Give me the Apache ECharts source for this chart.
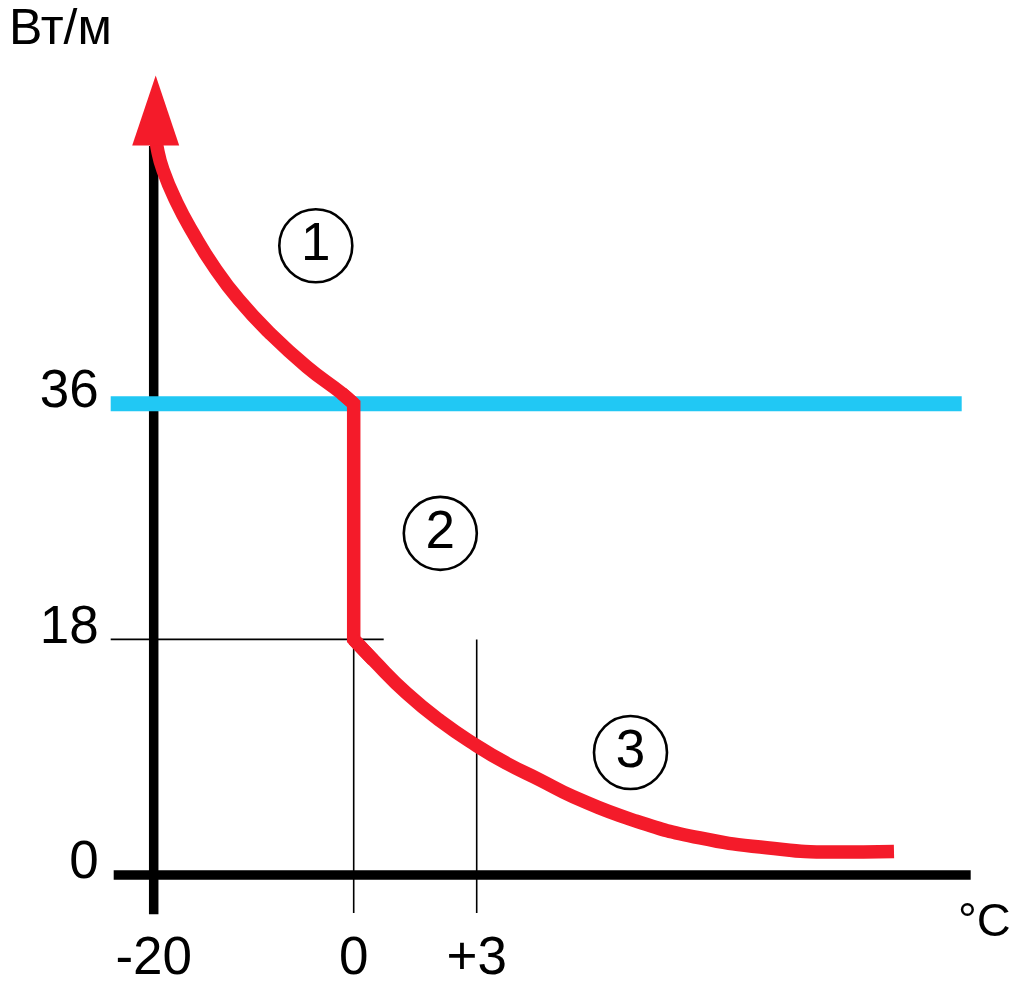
<!DOCTYPE html>
<html>
<head>
<meta charset="utf-8">
<script src="https://cdn.jsdelivr.net/npm/echarts@6/dist/echarts.min.js"></script>
<style>
  html, body { margin: 0; padding: 0; background: #fff; }
  #chart { width: 1013px; height: 982px; }
</style>
</head>
<body>
<div id="chart"></div>
<script>
// ---- data (schematic units: x = temperature position, y = W/m) ----
const xTickValues = [-20, 0, 12.3];
const xTickLabels = ['-20', '0', '+3'];
const yTickValues = [0, 18, 36];
const yTickLabels = ['0', '18', '36'];
const yUnit = 'Вт/м';
const xUnit = '°C';

// zone 1: rising heat output below freezing (ends in arrow)
const curve1 = [[-19.8, 56.6], [-19.67, 55.62], [-19.07, 53.86], [-17.72, 51.41], [-16.04, 49.02],
                [-13.97, 46.47], [-11.47, 43.93], [-8.37, 41.38], [-4.7, 38.83], [-1.2, 36.8], [0, 36]];
// zone 2: step down at 0 °C
const step2 = [[-1.2, 36.8], [0, 36], [0, 18], [1.96, 16.42]];
// zone 3: decay above 0 °C
const curve3 = [[0, 18], [1.96, 16.42], [5.3, 13.88], [8.63, 11.79], [12.3, 9.88], [15.3, 8.53],
                [18.63, 7.26], [21.96, 5.98], [27.93, 4.2], [34.63, 2.83], [41.3, 2.09], [47.93, 1.75], [54.03, 1.8]];
const arrowHead = [[-19.8, 58.4]];
const nominalLine = [[-24.3, 36], [60.8, 36]];
const axisX = [[-24, 0], [61.7, 0]];
const axisY = [[-20, -3], [-20, 55.7]];
const guide18 = [[-24.3, 18], [3.0, 18]];
const guide0 = [[0, 18], [0, -2.9]];
const guide3 = [[12.3, 18], [12.3, -2.9]];
const zoneLabels = ['1', '2', '3'];
const zonePos = [[-3.79, 48.07], [8.66, 26.1], [27.68, 9.36]];

const FONT = 'Liberation Sans, Arial, sans-serif';
const RED = '#F41B2A';
const BLUE = '#21C8F4';

const chart = echarts.init(document.getElementById('chart'), null, { renderer: 'canvas' });

function lineSeries(data, color, width, extra) {
  return Object.assign({
    type: 'line', data: data, symbol: 'none', silent: true, clip: false,
    lineStyle: { color: color, width: width, cap: 'butt', join: 'miter', opacity: 1 },
    z: 2
  }, extra || {});
}

chart.setOption({
  animation: false,
  backgroundColor: '#fff',
  title: [
    { text: yUnit, left: 9, top: 5, padding: 0,
      textStyle: { fontFamily: FONT, fontSize: 50, fontWeight: 'normal', color: '#000' } },
    { text: xUnit, left: 958, top: 900, padding: 0,
      textStyle: { fontFamily: FONT, fontSize: 47, fontWeight: 'normal', color: '#000' } }
  ],
  grid: { left: 110.7, right: 42.3, top: 76.5, bottom: 67.7, containLabel: false, outerBoundsMode: 'none' },
  xAxis: {
    type: 'value', min: -24.3, max: 61.7,
    axisLine: { show: false, onZero: false },
    axisTick: { show: false },
    splitLine: { show: false },
    axisLabel: {
      customValues: xTickValues,
      margin: 19,
      fontFamily: FONT, fontSize: 53, color: '#000',
      formatter: function (v) {
        const i = xTickValues.findIndex(t => Math.abs(t - v) < 1e-6);
        return i >= 0 ? xTickLabels[i] : '';
      }
    }
  },
  yAxis: {
    type: 'value', min: -3, max: 61,
    axisLine: { show: false, onZero: false },
    axisTick: { show: false },
    splitLine: { show: false },
    axisLabel: {
      customValues: yTickValues,
      margin: 12,
      verticalAlign: 'bottom',
      lineHeight: 23,
      fontFamily: FONT, fontSize: 53, color: '#000',
      formatter: function (v) {
        const i = yTickValues.findIndex(t => Math.abs(t - v) < 1e-6);
        return i >= 0 ? yTickLabels[i] : '';
      }
    }
  },
  series: [
    lineSeries(axisX, '#000', 9.5, { z: 1 }),
    lineSeries(axisY, '#000', 9.5, { z: 1 }),
    lineSeries(guide18, '#000', 1.6, { z: 1 }),
    lineSeries(guide0, '#000', 1.6, { z: 1 }),
    lineSeries(guide3, '#000', 1.6, { z: 1 }),
    lineSeries(nominalLine, BLUE, 15, { z: 2 }),
    lineSeries(curve1, RED, 13.5, { smooth: 0.5, z: 3 }),
    lineSeries(step2, RED, 13.5, { z: 3 }),
    lineSeries(curve3, RED, 13.5, { smooth: 0.5, z: 3 }),
    {
      type: 'scatter', data: arrowHead, symbol: 'triangle', symbolSize: [47, 70],
      itemStyle: { color: RED, opacity: 1 }, silent: true, clip: false, z: 4
    },
    {
      type: 'scatter', data: zonePos, symbol: 'circle', symbolSize: 73, silent: true, clip: false, z: 5,
      itemStyle: { color: 'rgba(255,255,255,0)', borderColor: '#000', borderWidth: 2.6, opacity: 1 },
      label: {
        show: true, position: 'inside', fontFamily: FONT, fontSize: 53, color: '#000',
        formatter: function (p) { return zoneLabels[p.dataIndex]; }
      }
    }
  ]
});
</script>
</body>
</html>
